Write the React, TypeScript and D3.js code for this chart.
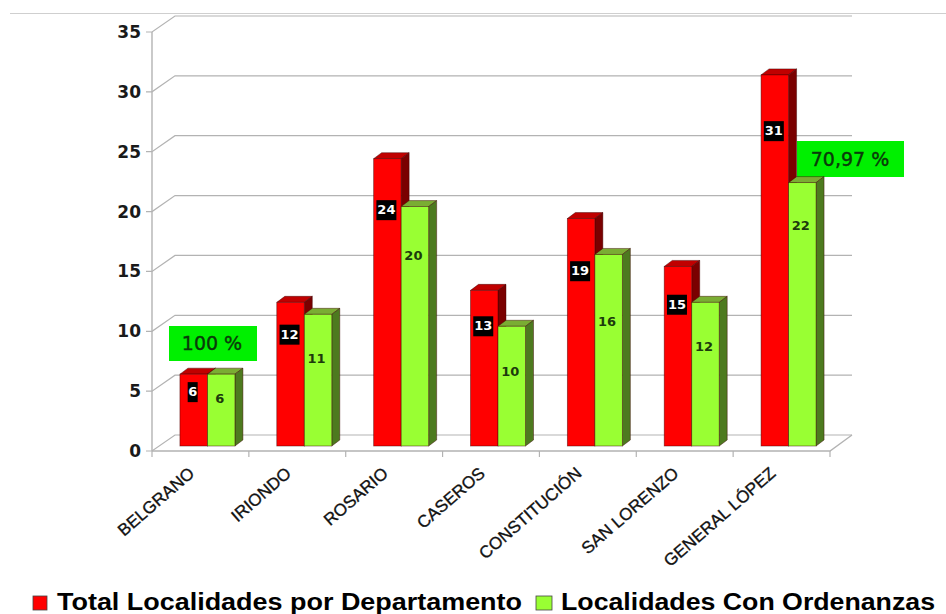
import React from 'react';
import * as d3 from 'd3';

const categories = ['BELGRANO', 'IRIONDO', 'ROSARIO', 'CASEROS', 'CONSTITUCIÓN', 'SAN LORENZO', 'GENERAL LÓPEZ'];
const totalValues = [6, 12, 24, 13, 19, 15, 31];
const ordenanzaValues = [6, 11, 20, 10, 16, 12, 22];
// the labels do not sit at a fixed height in the bars, heights
const totalLabelAt = [4.5, 9.3, 19.7, 10, 14.6, 11.8, 26.3];
const ordenanzaLabelAt = [3.9, 7.2, 15.8, 6.1, 10.3, 8.2, 18.3];
const yTicks = [0, 5, 10, 15, 20, 25, 30, 35];
const seriesNames = ['Total Localidades por Departamento', 'Localidades Con Ordenanzas'];

const width = 946;
const height = 614;
const depthX = 23;
const depthY = 16;
const barDepthX = 8;
const barDepthY = 6;
const barWidth = 27.5;

const RED = ['#ff0000', '#c00000', '#7a0000'];
const GREEN = ['#99ff33', '#7aad33', '#4d7a1f'];
const GRID = '#b3b3b3';
const FONT = '"Liberation Sans", Arial, sans-serif';
const TICK_FONT = '"DejaVu Sans", Verdana, sans-serif';

const x = d3.scaleBand<string>().domain(categories).range([152, 830]);
const y = d3.scaleLinear().domain([0, 35]).range([451, 32]);
// bars stand a bit behind the front of the floor
const barY = (v: number) => y(v) - 5;

const Bar: React.FC<{ left: number; value: number; colors: string[] }> = ({ left, value, colors }) => {
  const top = barY(value);
  const base = barY(0);
  const right = left + barWidth;
  const outline = 'rgba(60,0,0,0.55)';
  return (
    <g stroke={outline} strokeWidth={0.8}>
      <path
        d={`M${left},${top}L${left + barDepthX},${top - barDepthY}L${right + barDepthX},${top - barDepthY}L${right},${top}Z`}
        fill={colors[1]}
      />
      <path
        d={`M${right},${top}L${right + barDepthX},${top - barDepthY}L${right + barDepthX},${base - barDepthY}L${right},${base}Z`}
        fill={colors[2]}
      />
      <rect x={left} y={top} width={barWidth} height={base - top} fill={colors[0]} />
    </g>
  );
};

const App: React.FC = () => {
  const bandCenter = (c: string) => x(c)! + x.bandwidth() / 2 + 7;

  return (
    <svg
      width={width}
      height={height}
      viewBox={`0 0 ${width} ${height}`}
      style={{ position: 'absolute', left: 0, top: 0, background: '#fff' }}
    >
      {/* top edge of the slide, runs past the chart */}
      <line x1={10} x2={946} y1={13.5} y2={13.5} stroke="#cfcfcf" strokeWidth={1.2} />

      {/* grid */}
      {yTicks.map((t) => (
        <g key={t} stroke={GRID} strokeWidth={1.2} fill="none">
          <path d={`M146,${y(t)}H152L${152 + depthX},${y(t) - depthY}H852`} />
        </g>
      ))}
      <line x1={152} x2={152} y1={y(35)} y2={y(0)} stroke={GRID} strokeWidth={1.4} />
      <path d={`M152,${y(0)}H830L852,${y(0) - depthY}`} stroke={GRID} strokeWidth={1.4} fill="none" />
      {[...categories.map((c) => x(c)!), 830].map((t) => (
        <line key={t} x1={t} x2={t} y1={y(0)} y2={y(0) + 6} stroke={GRID} strokeWidth={1.2} />
      ))}

      {/* y tick labels */}
      {yTicks.map((t) => (
        <text
          key={t}
          x={141}
          y={y(t) + 1}
          textAnchor="end"
          dominantBaseline="middle"
          fontFamily={TICK_FONT}
          fontWeight="bold"
          fontSize={17}
          fill="#1a1a1a"
        >
          {t}
        </text>
      ))}

      {/* annotation behind the tall bar */}
      <rect x={797} y={141} width={107} height={36} fill="#00f000" />
      <text
        x={850}
        y={160}
        textAnchor="middle"
        dominantBaseline="middle"
        fontFamily={TICK_FONT}
        fontSize={19}
        fill="#0a3a0a"
        stroke="#0a3a0a"
        strokeWidth={0.4}
      >
        70,97 %
      </text>

      {/* bars */}
      {categories.map((c, i) => (
        <g key={c}>
          <Bar left={bandCenter(c) - barWidth} value={totalValues[i]} colors={RED} />
          <Bar left={bandCenter(c)} value={ordenanzaValues[i]} colors={GREEN} />
        </g>
      ))}

      {/* data labels */}
      {categories.map((c, i) => {
        const cx = bandCenter(c) - barWidth / 2 - 1;
        const cy = barY(totalLabelAt[i]);
        const w = totalValues[i] < 10 ? 10 : 20;
        return (
          <g key={c} fontFamily={TICK_FONT} fontWeight="bold" fontSize={13}>
            <rect x={cx - w / 2} y={cy - 10} width={w} height={20} fill="#000" />
            <text x={cx} y={cy + 0.5} textAnchor="middle" dominantBaseline="middle" fill="#fff">
              {totalValues[i]}
            </text>
            <text
              x={bandCenter(c) + barWidth / 2 - 1.5}
              y={barY(ordenanzaLabelAt[i])}
              textAnchor="middle"
              dominantBaseline="middle"
              fill="#1c3a0c"
            >
              {ordenanzaValues[i]}
            </text>
          </g>
        );
      })}

      <rect x={169} y={326} width={88} height={35} fill="#00f000" />
      <text
        x={212}
        y={344}
        textAnchor="middle"
        dominantBaseline="middle"
        fontFamily={TICK_FONT}
        fontSize={19}
        fill="#0a3a0a"
        stroke="#0a3a0a"
        strokeWidth={0.4}
      >
        100 %
      </text>

      {/* category labels */}
      {categories.map((c) => (
        <text
          key={c}
          transform={`translate(${x(c)! + x.bandwidth() / 2 - 5},${y(0) + 24}) rotate(-41)`}
          textAnchor="end"
          fontFamily={FONT}
          fontSize={17}
          fill="#111"
          stroke="#111"
          strokeWidth={0.35}
        >
          {c}
        </text>
      ))}

      {/* legend */}
      <rect x={33} y={596} width={14} height={14} fill="#ff0000" stroke="#444" strokeWidth={0.8} />
      <text x={57} y={610} textLength={465} lengthAdjust="spacingAndGlyphs" fontFamily={FONT} fontWeight="bold" fontSize={23.5} fill="#000">
        {seriesNames[0]}
      </text>
      <rect x={536} y={596} width={16} height={14} fill="#99ff33" stroke="#444" strokeWidth={0.8} />
      <text x={561} y={610} textLength={374} lengthAdjust="spacingAndGlyphs" fontFamily={FONT} fontWeight="bold" fontSize={23.5} fill="#000">
        {seriesNames[1]}
      </text>
    </svg>
  );
};

export default App;
